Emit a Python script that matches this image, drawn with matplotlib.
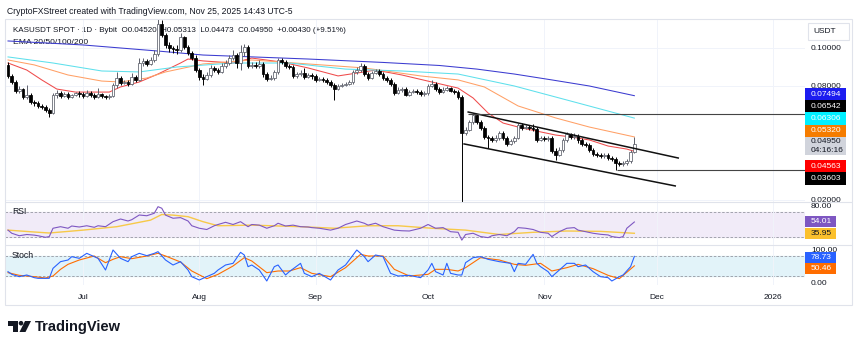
from __future__ import annotations

import matplotlib

matplotlib.use("Agg")
import matplotlib.pyplot as plt
from matplotlib.patches import Circle, Polygon, Rectangle
from matplotlib.transforms import IdentityTransform

FIG_W, FIG_H = 860, 349
INK = "#131722"

# daily KAS/USDT candles, 2025-06-11 .. 2025-11-25 (index 0 = Jun 11)
opens = [
    0.0911, 0.0853, 0.0821, 0.0774, 0.0784, 0.0742, 0.0753, 0.0716, 0.0711, 0.0695,
    0.0689, 0.0674, 0.0658, 0.0753, 0.0763, 0.0747, 0.0758, 0.0742, 0.0753, 0.0763,
    0.0758, 0.0747, 0.0763, 0.0753, 0.0742, 0.0758, 0.0747, 0.0742, 0.0747, 0.0805,
    0.0842, 0.0816, 0.0821, 0.0811, 0.0847, 0.0832, 0.0921, 0.0932, 0.0916, 0.0937,
    0.0968, 0.1126, 0.1068, 0.1016, 0.1000, 0.0995, 0.0989, 0.1058, 0.1005, 0.0974,
    0.0947, 0.0884, 0.0847, 0.0837, 0.0858, 0.0895, 0.0884, 0.0874, 0.0905, 0.0921,
    0.0947, 0.0963, 0.0921, 0.0979, 0.1005, 0.0905, 0.0911, 0.0905, 0.0916, 0.0863,
    0.0837, 0.0842, 0.0874, 0.0937, 0.0926, 0.0905, 0.0900, 0.0853, 0.0863, 0.0868,
    0.0847, 0.0858, 0.0853, 0.0832, 0.0837, 0.0832, 0.0821, 0.0805, 0.0784, 0.0800,
    0.0805, 0.0811, 0.0821, 0.0874, 0.0884, 0.0905, 0.0863, 0.0842, 0.0868, 0.0879,
    0.0863, 0.0842, 0.0832, 0.0811, 0.0763, 0.0779, 0.0784, 0.0753, 0.0768, 0.0774,
    0.0768, 0.0758, 0.0763, 0.0800, 0.0811, 0.0784, 0.0768, 0.0779, 0.0789, 0.0774,
    0.0768, 0.0742, 0.0553, 0.0568, 0.0611, 0.0647, 0.0611, 0.0579, 0.0532, 0.0526,
    0.0516, 0.0526, 0.0553, 0.0526, 0.0495, 0.0511, 0.0526, 0.0595, 0.0579, 0.0584,
    0.0579, 0.0574, 0.0516, 0.0526, 0.0521, 0.0526, 0.0458, 0.0437, 0.0463, 0.0516,
    0.0547, 0.0532, 0.0537, 0.0516, 0.0495, 0.0489, 0.0463, 0.0442, 0.0437, 0.0432,
    0.0437, 0.0421, 0.0416, 0.0395, 0.0389, 0.0395, 0.0405, 0.0452,
]
highs = [
    0.0926, 0.0863, 0.0832, 0.0800, 0.0789, 0.0805, 0.0763, 0.0726, 0.0721, 0.0705,
    0.0700, 0.0684, 0.0763, 0.0779, 0.0774, 0.0768, 0.0768, 0.0758, 0.0768, 0.0774,
    0.0768, 0.0779, 0.0774, 0.0763, 0.0789, 0.0763, 0.0753, 0.0758, 0.0816, 0.0874,
    0.0853, 0.0832, 0.0832, 0.0868, 0.0858, 0.0947, 0.0947, 0.0942, 0.0953, 0.0989,
    0.1153, 0.1147, 0.1079, 0.1032, 0.1011, 0.1016, 0.1079, 0.1063, 0.1016, 0.0984,
    0.0963, 0.0895, 0.0863, 0.0874, 0.0911, 0.0905, 0.0895, 0.0921, 0.0937, 0.0963,
    0.0989, 0.0974, 0.1016, 0.1021, 0.1016, 0.0926, 0.0926, 0.0937, 0.0926, 0.0874,
    0.0858, 0.0884, 0.0947, 0.0947, 0.0937, 0.0916, 0.0911, 0.0874, 0.0884, 0.0895,
    0.0868, 0.0868, 0.0863, 0.0847, 0.0847, 0.0842, 0.0832, 0.0816, 0.0811, 0.0816,
    0.0821, 0.0832, 0.0884, 0.0900, 0.0921, 0.0916, 0.0874, 0.0879, 0.0889, 0.0889,
    0.0874, 0.0853, 0.0842, 0.0821, 0.0795, 0.0795, 0.0795, 0.0779, 0.0784, 0.0784,
    0.0779, 0.0774, 0.0811, 0.0832, 0.0821, 0.0795, 0.0795, 0.0800, 0.0795, 0.0784,
    0.0779, 0.0753, 0.0584, 0.0621, 0.0654, 0.0650, 0.0621, 0.0589, 0.0542, 0.0537,
    0.0542, 0.0563, 0.0563, 0.0537, 0.0521, 0.0537, 0.0605, 0.0605, 0.0595, 0.0595,
    0.0600, 0.0584, 0.0537, 0.0537, 0.0537, 0.0537, 0.0474, 0.0479, 0.0526, 0.0558,
    0.0553, 0.0553, 0.0547, 0.0526, 0.0505, 0.0500, 0.0474, 0.0453, 0.0447, 0.0447,
    0.0447, 0.0432, 0.0426, 0.0405, 0.0405, 0.0416, 0.0463, 0.0531,
]
lows = [
    0.0842, 0.0811, 0.0763, 0.0763, 0.0732, 0.0732, 0.0705, 0.0695, 0.0684, 0.0679,
    0.0663, 0.0637, 0.0653, 0.0737, 0.0737, 0.0742, 0.0732, 0.0737, 0.0747, 0.0742,
    0.0737, 0.0742, 0.0742, 0.0732, 0.0737, 0.0737, 0.0732, 0.0732, 0.0742, 0.0789,
    0.0805, 0.0811, 0.0800, 0.0805, 0.0821, 0.0826, 0.0905, 0.0905, 0.0911, 0.0926,
    0.0958, 0.1058, 0.1000, 0.0979, 0.0974, 0.0968, 0.0979, 0.0995, 0.0963, 0.0937,
    0.0874, 0.0832, 0.0805, 0.0832, 0.0847, 0.0874, 0.0863, 0.0868, 0.0895, 0.0911,
    0.0937, 0.0895, 0.0884, 0.0958, 0.0895, 0.0895, 0.0895, 0.0895, 0.0847, 0.0826,
    0.0832, 0.0832, 0.0863, 0.0916, 0.0895, 0.0889, 0.0842, 0.0842, 0.0853, 0.0837,
    0.0842, 0.0837, 0.0821, 0.0826, 0.0821, 0.0811, 0.0795, 0.0726, 0.0779, 0.0795,
    0.0800, 0.0805, 0.0811, 0.0863, 0.0874, 0.0853, 0.0832, 0.0837, 0.0863, 0.0853,
    0.0832, 0.0821, 0.0800, 0.0753, 0.0758, 0.0768, 0.0747, 0.0747, 0.0763, 0.0758,
    0.0747, 0.0747, 0.0753, 0.0795, 0.0774, 0.0758, 0.0763, 0.0774, 0.0768, 0.0758,
    0.0732, 0.0184, 0.0542, 0.0563, 0.0600, 0.0600, 0.0568, 0.0521, 0.0474, 0.0505,
    0.0505, 0.0516, 0.0516, 0.0484, 0.0489, 0.0500, 0.0521, 0.0568, 0.0574, 0.0568,
    0.0563, 0.0505, 0.0511, 0.0511, 0.0511, 0.0447, 0.0411, 0.0432, 0.0453, 0.0505,
    0.0521, 0.0521, 0.0500, 0.0484, 0.0479, 0.0453, 0.0432, 0.0426, 0.0421, 0.0421,
    0.0411, 0.0405, 0.0360, 0.0379, 0.0379, 0.0384, 0.0395, 0.0447,
]
closes = [
    0.0853, 0.0821, 0.0774, 0.0784, 0.0742, 0.0753, 0.0716, 0.0711, 0.0695, 0.0689,
    0.0674, 0.0658, 0.0753, 0.0763, 0.0747, 0.0758, 0.0742, 0.0753, 0.0763, 0.0758,
    0.0747, 0.0763, 0.0753, 0.0742, 0.0758, 0.0747, 0.0742, 0.0747, 0.0805, 0.0842,
    0.0816, 0.0821, 0.0811, 0.0847, 0.0832, 0.0921, 0.0932, 0.0916, 0.0937, 0.0968,
    0.1126, 0.1068, 0.1016, 0.1000, 0.0995, 0.0989, 0.1058, 0.1005, 0.0974, 0.0947,
    0.0884, 0.0847, 0.0837, 0.0858, 0.0895, 0.0884, 0.0874, 0.0905, 0.0921, 0.0947,
    0.0963, 0.0921, 0.0979, 0.1005, 0.0905, 0.0911, 0.0905, 0.0916, 0.0863, 0.0837,
    0.0842, 0.0874, 0.0937, 0.0926, 0.0905, 0.0900, 0.0853, 0.0863, 0.0868, 0.0847,
    0.0858, 0.0853, 0.0832, 0.0837, 0.0832, 0.0821, 0.0805, 0.0784, 0.0800, 0.0805,
    0.0811, 0.0821, 0.0874, 0.0884, 0.0905, 0.0863, 0.0842, 0.0868, 0.0879, 0.0863,
    0.0842, 0.0832, 0.0811, 0.0763, 0.0779, 0.0784, 0.0753, 0.0768, 0.0774, 0.0768,
    0.0758, 0.0763, 0.0800, 0.0811, 0.0784, 0.0768, 0.0779, 0.0789, 0.0774, 0.0768,
    0.0742, 0.0553, 0.0568, 0.0611, 0.0647, 0.0611, 0.0579, 0.0532, 0.0526, 0.0516,
    0.0526, 0.0553, 0.0526, 0.0495, 0.0511, 0.0526, 0.0595, 0.0579, 0.0584, 0.0579,
    0.0574, 0.0516, 0.0526, 0.0521, 0.0526, 0.0458, 0.0437, 0.0463, 0.0516, 0.0547,
    0.0532, 0.0537, 0.0516, 0.0495, 0.0489, 0.0463, 0.0442, 0.0437, 0.0432, 0.0437,
    0.0421, 0.0416, 0.0395, 0.0389, 0.0395, 0.0405, 0.0452, 0.0495,
]

# EMA lines (day index, price)
ema20_days = [0, 5, 9, 13, 18, 27, 30, 35, 40, 46, 48, 52, 60, 65, 73, 80, 88, 93, 98,
              105, 113, 120, 124, 128, 132, 137, 146, 150, 155, 160, 165, 167]
ema20 = [0.0921, 0.0884, 0.0832, 0.0784, 0.0768, 0.0768, 0.0795, 0.0821, 0.0863, 0.0921,
         0.0942, 0.0932, 0.0921, 0.0947, 0.0926, 0.0895, 0.0853, 0.0868, 0.0884, 0.0858,
         0.0821, 0.0789, 0.0737, 0.0658, 0.0605, 0.0579, 0.0542, 0.0532, 0.0516, 0.0484,
         0.0468, 0.0456]
ema50_days = [0, 7, 16, 25, 30, 37, 42, 52, 65, 80, 95, 110, 120, 127, 136, 146, 155, 167]
ema50 = [0.0937, 0.0911, 0.0858, 0.0826, 0.0821, 0.0842, 0.0874, 0.0916, 0.0937, 0.0916,
         0.0895, 0.0853, 0.0832, 0.0795, 0.0695, 0.0632, 0.0584, 0.0532]
ema100_days = [0, 12, 25, 35, 45, 60, 75, 90, 105, 120, 125, 135, 150, 167]
ema100 = [0.0953, 0.0921, 0.0879, 0.0874, 0.0900, 0.0921, 0.0921, 0.0889, 0.0879, 0.0863,
          0.0842, 0.0800, 0.0721, 0.0631]
ema200_days = [0, 20, 40, 52, 80, 100, 115, 125, 135, 145, 155, 167]
ema200 = [0.1037, 0.1016, 0.0984, 0.0963, 0.0942, 0.0924, 0.0908, 0.0889, 0.0863, 0.0832,
          0.0800, 0.0749]

# drawings: descending channel and two horizontal levels
channel_upper_days = [122.7, 178.7]
channel_upper = [0.0663, 0.0421]
channel_lower_days = [121.6, 177.9]
channel_lower = [0.0495, 0.0274]
level_prices = [0.06542, 0.03603]
level_start_days = [122.7, 162.5]

# RSI(14) and its moving average
rsi_days = [0, 1, 3, 5, 7, 8, 10, 11, 12, 14, 16, 17, 19, 21, 23, 24, 26, 28, 30, 32, 33,
            35, 37, 39, 40, 41, 42, 44, 46, 48, 49, 51, 53, 55, 56, 58, 60, 62, 64, 65, 67,
            69, 71, 72, 74, 76, 78, 80, 81, 83, 86, 88, 90, 93, 95, 96, 98, 100, 103, 105,
            107, 110, 112, 114, 116, 118, 120, 121, 122, 124, 126, 128, 129, 131, 133, 135,
            136, 138, 140, 142, 144, 145, 147, 149, 151, 152, 154, 156, 158, 160, 161, 163,
            164, 165, 167]
rsi = [41, 36, 32, 34, 33, 32, 29.5, 30.7, 44, 46.5, 44, 47.6, 46, 48, 45.5, 48, 46.5,
       54.5, 58.8, 55.6, 57.7, 65.2, 64, 68, 78.5, 76, 65, 60, 61, 55.6, 48, 44, 42, 48,
       50, 53.5, 50, 54.5, 46.5, 50, 49, 44, 48, 52, 47.6, 49, 46.5, 46, 45, 44, 41, 44,
       50, 55.6, 52, 49, 52, 46.5, 41, 40, 39.6, 44, 50, 44, 45, 38.5, 37.5, 25, 34, 36,
       30.7, 29, 32, 34, 32, 38.5, 45, 44, 42, 37.5, 36, 30.7, 38.5, 44, 45, 41, 38.5, 36,
       34.3, 33.3, 30.7, 29, 30.7, 44, 54.01]
rsi_ma_days = [0, 7, 11, 20, 29, 38, 41, 44, 48, 52, 56, 65, 78, 87, 96, 104, 113, 122,
               131, 140, 149, 158, 167]
rsi_ma = [41, 38, 36.4, 41, 46.5, 57, 66, 65, 62.5, 54.5, 48, 49, 46.5, 44, 48, 48, 44,
          41, 34, 37.5, 39.6, 39, 35.95]

# Stochastic %K and %D
stoch_k_days = [0, 1, 3, 5, 7, 8, 11, 12, 14, 16, 17, 19, 21, 23, 24, 26, 28, 30, 32, 33,
                35, 37, 39, 40, 42, 44, 46, 48, 49, 51, 53, 55, 56, 58, 60, 62, 63, 64, 65,
                67, 69, 71, 72, 74, 75, 78, 79, 81, 83, 86, 88, 90, 93, 95, 96, 98, 100,
                102, 104, 107, 110, 112, 113, 114, 116, 117, 118, 120, 121, 122, 124, 126,
                128, 131, 134, 135, 136, 138, 140, 141, 142, 144, 145, 147, 149, 151, 152,
                154, 156, 158, 160, 161, 163, 164, 166, 167]
stoch_k = [33, 25, 18, 23, 15, 13, 13, 43, 63, 68, 78, 73, 88, 78, 73, 38, 98, 73, 63, 78,
           88, 81, 88, 93, 68, 53, 63, 38, 18, 8, 18, 28, 38, 53, 58, 91, 83, 48, 53, 38,
           5, 48, 53, 23, 33, 58, 28, 18, 28, 8, 38, 53, 98, 78, 63, 83, 78, 28, 20, 22,
           15, 38, 58, 33, 23, 58, 28, 23, 23, 60, 75, 78, 70, 63, 58, 33, 58, 55, 85, 58,
           48, 33, 18, 38, 58, 58, 48, 53, 33, 18, 15, 5, 18, 23, 48, 78.73]
stoch_d_days = [0, 3, 7, 10, 12, 14, 16, 19, 23, 26, 28, 30, 33, 37, 40, 42, 46, 49, 53,
                56, 60, 63, 65, 69, 72, 75, 78, 81, 86, 90, 94, 96, 100, 103, 107, 112, 114,
                117, 120, 122, 126, 131, 135, 138, 142, 145, 149, 152, 156, 160, 163, 167]
stoch_d = [30, 22, 18, 14, 20, 40, 55, 68, 80, 60, 70, 78, 72, 80, 88, 80, 62, 35, 12, 25,
           50, 75, 65, 30, 35, 35, 45, 28, 18, 45, 85, 80, 80, 40, 20, 25, 40, 40, 35, 45,
           75, 68, 55, 52, 58, 35, 45, 55, 42, 22, 12, 50.46]

month_days = [20, 51, 82, 112, 143, 173, 204]
month_labels = ["Jul", "Aug", "Sep", "Oct", "Nov", "Dec", "2026"]
price_ticks = [0.02, 0.08, 0.10]

HEADER = "CryptoFXStreet created with TradingView.com, Nov 25, 2025 14:43 UTC-5"
LEGEND = "KASUSDT SPOT \u00b7 1D \u00b7 Bybit  O0.04520  H0.05313  L0.04473  C0.04950  +0.00430 (+9.51%)"


def _rect(x0: float, y0: float, x1: float, y1: float) -> list[float]:
    return [x0 / FIG_W, 1 - y1 / FIG_H, (x1 - x0) / FIG_W, (y1 - y0) / FIG_H]


def _clean(axis, bottom: float, top: float) -> None:
    axis.set_xlim(-0.8, 212.5)
    axis.set_ylim(bottom, top)
    axis.set_facecolor("none")
    for spine in axis.spines.values():
        spine.set_visible(False)
    axis.yaxis.tick_right()
    axis.tick_params(axis="both", length=0, labelsize=6, colors=INK, pad=4.3)
    axis.set_xticks(month_days)
    axis.set_xticklabels([])
    axis.grid(True, axis="x", color="#f0f3fa", linewidth=0.7)


def _text(figure, x: float, y: float, s: str, **kw) -> None:
    figure.text(x, FIG_H - y, s, transform=IdentityTransform(), **kw)


def _tag(figure, axis, value, lines, face, color, shift=0.0, width=41, height=12.5) -> None:
    y = axis.transData.transform((0, value))[1] - shift
    figure.add_artist(Rectangle((805, y - height / 2), width, height, transform=IdentityTransform(),
                                facecolor=face, edgecolor="none", zorder=5))
    step = height / len(lines)
    for k, s in enumerate(lines):
        ty = y + height / 2 - step * (k + 0.5)
        figure.text(810.5, ty, s, transform=IdentityTransform(), fontsize=6, color=color,
                    va="center", ha="left", zorder=6)


def main() -> None:
    plt.rcParams["font.family"] = ["Liberation Sans", "DejaVu Sans"]
    figure = plt.figure(figsize=(FIG_W / 100, FIG_H / 100), dpi=100, facecolor="white")

    price = figure.add_axes(_rect(5, 19, 805, 202))
    _clean(price, 0.018947, 0.11526)
    price.set_yticks(price_ticks)
    price.set_yticklabels([f"{t:.5f}" for t in price_ticks])
    price.grid(True, axis="y", color="#f0f3fa", linewidth=0.7)

    days = list(range(len(closes)))
    up = [c >= o for o, c in zip(opens, closes)]
    wick_colors = ["#5d606b" if u else "#000000" for u in up]
    price.vlines(days, lows, highs, colors=wick_colors, linewidth=0.7, zorder=3)
    bottoms = [min(o, c) for o, c in zip(opens, closes)]
    heights = [max(abs(c - o), 0.00012) for o, c in zip(opens, closes)]
    price.bar(days, heights, bottom=bottoms, width=0.72,
              color=["#ffffff" if u else "#000000" for u in up],
              edgecolor=wick_colors, linewidth=0.55, zorder=4)

    price.plot(ema20_days, ema20, color="#ef4b4b", linewidth=0.75, zorder=2)
    price.plot(ema50_days, ema50, color="#ffa066", linewidth=0.75, zorder=2)
    price.plot(ema100_days, ema100, color="#5ee0ec", linewidth=0.75, zorder=2)
    price.plot(ema200_days, ema200, color="#3b3bd0", linewidth=0.75, zorder=2)

    price.plot(channel_upper_days, channel_upper, color="#111111", linewidth=1.1, zorder=5)
    price.plot(channel_lower_days, channel_lower, color="#111111", linewidth=1.1, zorder=5)
    for level, start in zip(level_prices, level_start_days):
        price.hlines(level, start, 212.5, color="#444444", linewidth=0.8, zorder=5)

    rsi_ax = figure.add_axes(_rect(5, 202, 805, 245))
    _clean(rsi_ax, 17.2, 86)
    rsi_ax.set_yticks([80])
    rsi_ax.set_yticklabels(["80.00"])
    rsi_ax.axhspan(30, 70, color="#f1ebf8", zorder=0)
    for level in (70, 30):
        rsi_ax.axhline(level, color="#9598a1", linewidth=0.6, dashes=(3, 2), zorder=1)
    rsi_ax.plot(rsi_ma_days, rsi_ma, color="#f7c948", linewidth=1.0, zorder=2)
    rsi_ax.plot(rsi_days, rsi, color="#7e57c2", linewidth=0.8, zorder=3)

    stoch_ax = figure.add_axes(_rect(5, 245, 805, 285))
    _clean(stoch_ax, -7, 113)
    stoch_ax.set_yticks([100, 0])
    stoch_ax.set_yticklabels(["100.00", "0.00"])
    stoch_ax.axhspan(20, 80, color="#e2f3f9", zorder=0)
    for level in (80, 20):
        stoch_ax.axhline(level, color="#9598a1", linewidth=0.6, dashes=(3, 2), zorder=1)
    stoch_ax.plot(stoch_d_days, stoch_d, color="#ff6d00", linewidth=0.8, zorder=2)
    stoch_ax.plot(stoch_k_days, stoch_k, color="#2962ff", linewidth=0.8, zorder=3)
    stoch_ax.set_xticklabels(month_labels)
    stoch_ax.tick_params(axis="x", pad=6.2)

    # frame and pane separators
    frame = Rectangle((5, FIG_H - 305), 847, 286, transform=IdentityTransform(),
                      facecolor="none", edgecolor="#e0e3eb", linewidth=0.8, zorder=1)
    figure.add_artist(frame)
    for y in (202, 245):
        figure.add_artist(Rectangle((5, FIG_H - y), 847, 0, transform=IdentityTransform(),
                                    edgecolor="#e0e3eb", linewidth=0.8, zorder=1))

    # price tags on the right scale
    _tag(figure, price, 0.07494, ["0.07494"], "#1c1cf0", "white", -1.6)
    _tag(figure, price, 0.06542, ["0.06542"], "#000000", "white", -7.2)
    _tag(figure, price, 0.06306, ["0.06306"], "#00f0ff", "white", 0.3)
    _tag(figure, price, 0.05320, ["0.05320"], "#f57c00", "white", -6.0)
    _tag(figure, price, 0.04950, ["0.04950", "04:16:16"], "#d1d4dc", INK, 2.1, height=18)
    _tag(figure, price, 0.04563, ["0.04563"], "#ff0000", "white", 14.7)
    _tag(figure, price, 0.03603, ["0.03603"], "#000000", "white", 9.0)
    _tag(figure, rsi_ax, 54.01, ["54.01"], "#7e57c2", "white", 0.0, width=31, height=11)
    _tag(figure, rsi_ax, 35.95, ["35.95"], "#fbc02d", INK, 0.7, width=31, height=11)
    _tag(figure, stoch_ax, 78.73, ["78.73"], "#2962ff", "white", 0.6, width=31, height=11)
    _tag(figure, stoch_ax, 50.46, ["50.46"], "#ff6d00", "white", 2.2, width=31, height=11)

    figure.add_artist(Rectangle((808, FIG_H - 40), 41, 17, transform=IdentityTransform(),
                                facecolor="white", edgecolor="#e0e3eb", linewidth=0.8, zorder=5))
    _text(figure, 813.5, 31.5, "USDT", fontsize=6, color=INK, va="center", zorder=6)

    # header and legend (legend drawn under the price pane so candles overlap it)
    _text(figure, 7, 11, HEADER, fontsize=6.2, color=INK, va="center")
    _text(figure, 13, 30, LEGEND, fontsize=5.8, color=INK, va="center", zorder=-1)
    _text(figure, 13, 43, "EMA 20/50/100/200", fontsize=6.1, color=INK, va="center", zorder=-1)
    _text(figure, 12, 212, "RSI", fontsize=6.2, color=INK, va="center", zorder=3)
    _text(figure, 12, 256, "Stoch", fontsize=6.2, color=INK, va="center", zorder=3)

    # TradingView logo
    def pts(points):
        return [(x, FIG_H - y) for x, y in points]

    figure.add_artist(Polygon(pts([(8, 321), (17.5, 321), (17.5, 332), (13, 332), (13, 325.5), (8, 325.5)]),
                              transform=IdentityTransform(), facecolor=INK, edgecolor="none"))
    figure.add_artist(Circle((21, FIG_H - 323.2), 2.3, transform=IdentityTransform(),
                             facecolor=INK, edgecolor="none"))
    figure.add_artist(Polygon(pts([(25, 321), (31, 321), (25.5, 332), (19.5, 332)]),
                              transform=IdentityTransform(), facecolor=INK, edgecolor="none"))
    _text(figure, 35, 327, "TradingView", fontsize=10.5, fontweight="bold", color=INK, va="center")

    figure.savefig("out.png", dpi=100, facecolor="white")
    plt.close(figure)


if __name__ == "__main__":
    main()
